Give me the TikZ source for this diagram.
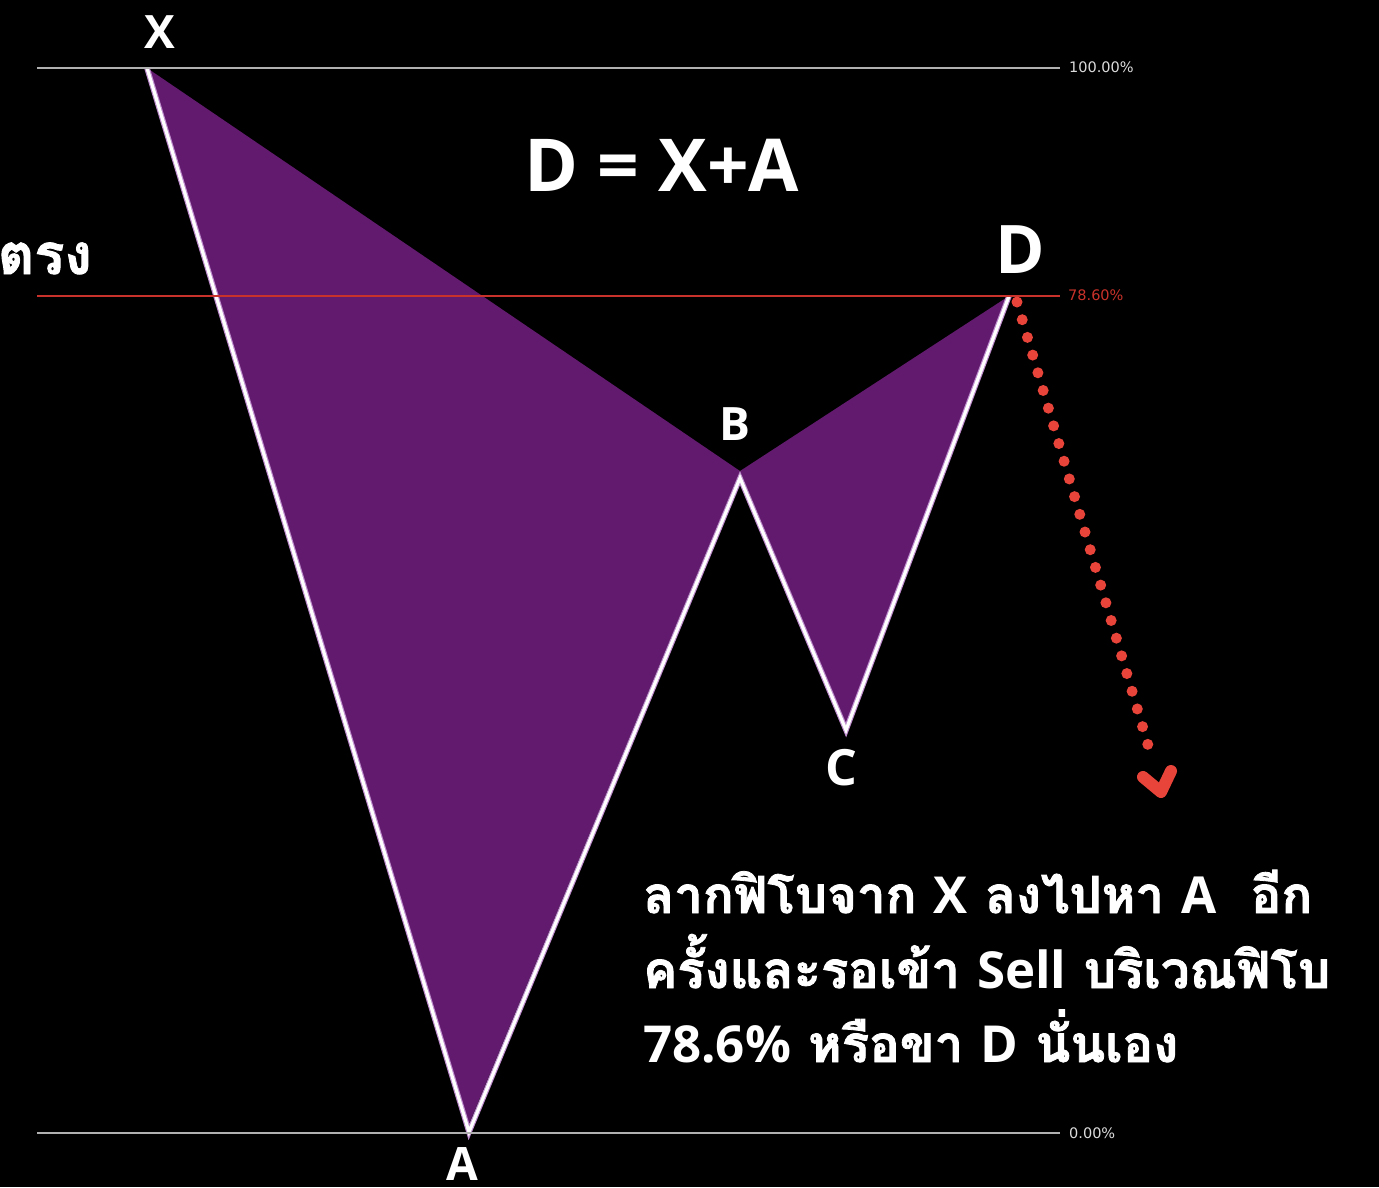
\documentclass[tikz,border=0pt]{standalone}
\usepackage{fontspec}
\setmainfont{Open Sans}
\newfontfamily\thaifont[Script=Thai,BoldFeatures={FakeBold=1.6}]{Loma}
\newfontfamily\latfont{Open Sans}
\newfontfamily\pctfont{DejaVu Sans}
\definecolor{pfill}{RGB}{97,26,110}
\definecolor{pglow}{RGB}{190,140,205}
\definecolor{fibgray}{RGB}{176,176,176}
\definecolor{pcttext}{RGB}{220,220,220}
\definecolor{fibred}{RGB}{200,50,42}
\definecolor{dotred}{RGB}{232,68,58}
\begin{document}
\begin{tikzpicture}[x=1pt,y=-1pt,
  lbl/.style={text=white,font=\latfont\bfseries\fontsize{46}{50}\selectfont,inner sep=0pt},
  pct/.style={font=\pctfont\fontsize{14.5}{16}\selectfont,inner sep=0pt,anchor=west},
  fibline/.style={line width=1.4pt},
  edge/.style={draw=white,line width=3.2pt,line join=miter},
  glow/.style={draw=pglow,line width=5.5pt,line join=miter},
  thline/.style={text=white,font=\thaifont\bfseries\fontsize{51}{56}\selectfont,inner sep=0pt,anchor=base west}]
\useasboundingbox (0,0) rectangle (1379,1187);
\fill[black] (0,0) rectangle (1379,1187);
\clip (0,0) rectangle (1379,1187);
% fib levels
\coordinate (L100a) at (37,68);   \coordinate (L100b) at (1060,68);
\coordinate (L786a) at (37,296);  \coordinate (L786b) at (1060,296);
\coordinate (L0a) at (37,1133);   \coordinate (L0b) at (1060,1133);
% fill vertices
\coordinate (fX) at (147,68);
\coordinate (fA) at (469,1124);
\coordinate (fB) at (740,471);
\coordinate (fC) at (846,724);
\coordinate (fD) at (1009,296);
% edge vertices
\coordinate (eX) at (147,68);
\coordinate (eA) at (469,1132);
\coordinate (eB) at (740,478);
\coordinate (eC) at (846,730);
\coordinate (eD) at (1009,296);
\fill[pfill] (fX) -- (fA) -- (fB) -- cycle;
\fill[pfill] (fB) -- (fC) -- (fD) -- cycle;
\draw[glow] (eX) -- (eA) -- (eB) -- (eC) -- (eD);
\draw[edge] (eX) -- (eA) -- (eB) -- (eC) -- (eD);
\draw[fibline,draw=fibgray] (L100a) -- (L100b);
\draw[fibline,draw=fibred,line width=1.1pt] (L786a) -- (L786b);
\draw[fibline,draw=fibgray] (L0a) -- (L0b);
\node[pct,text=pcttext] (p100) at (1069,67) {100.00\%};
\node[pct,text=fibred] (p786) at (1068,295) {78.60\%};
\node[pct,text=pcttext] (p0) at (1069,1133) {0.00\%};
% point labels
\node[lbl] (lX) at (160,32) {X};
\node[lbl,font=\latfont\bfseries\fontsize{67}{70}\selectfont] (lD) at (1020,250) {D};
\node[lbl] (lB) at (735,424) {B};
\node[lbl,font=\latfont\bfseries\fontsize{50}{54}\selectfont] (lC) at (841,768) {C};
\node[lbl] (lA) at (462,1164) {A};
\node[lbl,font=\latfont\bfseries\fontsize{73}{80}\selectfont] (title) at (662,165) {D = X+A};
\node[thline,anchor=base east,font=\thaifont\bfseries\fontsize{56}{60}\selectfont] (trong) at (92,274) {ตรง};
% dotted arrow
\coordinate (ds) at (1017,302);
\coordinate (de) at (1153,762);
\draw[dotred,line width=11pt,line cap=round,dash pattern=on 0pt off 18.45pt] (ds) -- (de);
\coordinate (h1) at (1143,777);
\coordinate (h2) at (1161,792);
\coordinate (h3) at (1171,771);
\draw[dotred,line width=12pt,line cap=round,line join=round] (h1) -- (h2) -- (h3);
% text block
\node[thline] (t1) at (643,913) {ลากฟิโบจาก {\latfont\bfseries X} ลงไปหา {\latfont\bfseries A}\ \ อีก};
\node[thline] (t2) at (643,988) {ครั้งและรอเข้า {\latfont\bfseries Sell} บริเวณฟิโบ};
\node[thline] (t3) at (643,1062) {{\latfont\bfseries 78.6\%} หรือขา {\latfont\bfseries D} นั่นเอง};
\end{tikzpicture}
\end{document}
